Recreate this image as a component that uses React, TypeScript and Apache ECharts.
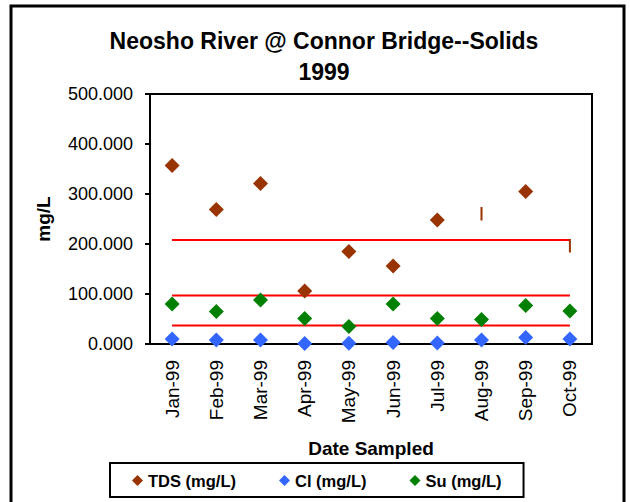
import React, { useEffect, useRef } from "react";
import * as echarts from "echarts";

const categories = ["Jan-99", "Feb-99", "Mar-99", "Apr-99", "May-99", "Jun-99", "Jul-99", "Aug-99", "Sep-99", "Oct-99"];
const tds = [357, 269, 321, 106, 185, 156, 248, null, 305, null];
const cl = [10, 8, 8, 1, 1.5, 3, 2, 8, 13, 10];
const su = [80, 65, 88, 51, 35, 80, 51, 49, 77, 66];
// vertical brown segments (category index, high, low)
const tdsSegments = [
  [7, 274, 247],
  [9, 210, 183],
];
const limitHigh = [208, 208, 208, 208, 208, 208, 208, 208, 208, 208];
const limitMid = [97, 97, 97, 97, 97, 97, 97, 97, 97, 97];
const limitLow = [37, 37, 37, 37, 37, 37, 37, 37, 37, 37];
const yTicks = [0, 100, 200, 300, 400, 500];

const FONT = "'Liberation Sans', Arial, sans-serif";

export default function App() {
  const ref = useRef<HTMLDivElement>(null);
  useEffect(() => {
    const chart = echarts.init(ref.current!, null, { renderer: "svg" });
    const redLine = (data: number[]) => ({
      type: "line",
      data,
      symbol: "none",
      lineStyle: { color: "#FF0000", width: 2 },
      silent: true,
      z: 1,
    });
    chart.setOption({
      animation: false,
      backgroundColor: "#ffffff",
      textStyle: { fontFamily: FONT },
      title: {
        text: "Neosho River @ Connor Bridge--Solids\n1999",
        left: 319,
        textAlign: "center",
        top: 20,
        textStyle: { fontFamily: FONT, fontSize: 23, fontWeight: "bold", color: "#000", lineHeight: 31 },
      },
      graphic: [
        {
          type: "rect",
          shape: { x: 11, y: 6, width: 613, height: 520 },
          style: { fill: "none", stroke: "#000", lineWidth: 3 },
          silent: true,
        },
      ],
      legend: {
        left: 110,
        top: 463,
        padding: [9, 22, 8, 22],
        itemGap: 43,
        itemWidth: 11,
        itemHeight: 11,
        borderColor: "#000",
        borderWidth: 2,
        data: [
          { name: "TDS (mg/L)", icon: "diamond" },
          { name: "Cl (mg/L)", icon: "diamond" },
          { name: "Su (mg/L)", icon: "diamond" },
        ],
        textStyle: { fontFamily: FONT, fontSize: 16.5, fontWeight: "bold", color: "#000" },
      },
      grid: {
        left: 150,
        top: 94,
        right: 38,
        bottom: 158,
        show: true,
        borderColor: "#000",
        borderWidth: 2,
        containLabel: false,
      },
      xAxis: {
        type: "category",
        data: categories,
        boundaryGap: true,
        name: "Date Sampled",
        nameLocation: "middle",
        nameGap: 95,
        nameTextStyle: { fontFamily: FONT, fontSize: 19, fontWeight: "bold", color: "#000", verticalAlign: "top" },
        axisLine: { lineStyle: { color: "#000", width: 2 } },
        axisTick: { show: false },
        axisLabel: { rotate: 90, fontSize: 19, color: "#000", fontFamily: FONT, margin: 16 },
        splitLine: { show: false },
      },
      yAxis: {
        type: "value",
        min: yTicks[0],
        max: yTicks[yTicks.length - 1],
        interval: 100,
        name: "mg/L",
        nameLocation: "middle",
        nameGap: 97,
        nameTextStyle: { fontFamily: FONT, fontSize: 19, fontWeight: "bold", color: "#000" },
        axisLine: { show: true, lineStyle: { color: "#000", width: 2 } },
        axisTick: { show: true, inside: false, length: 5, lineStyle: { color: "#000", width: 2 } },
        axisLabel: {
          fontSize: 18,
          color: "#000",
          fontFamily: FONT,
          margin: 17,
          formatter: (v: number) => v.toFixed(3),
        },
        splitLine: { show: false },
      },
      series: [
        redLine(limitHigh),
        redLine(limitMid),
        redLine(limitLow),
        {
          type: "custom",
          silent: true,
          z: 2,
          data: tdsSegments,
          renderItem: (params: any, api: any) => {
            const p1 = api.coord([api.value(0), api.value(1)]);
            const p2 = api.coord([api.value(0), api.value(2)]);
            return {
              type: "line",
              shape: { x1: p1[0], y1: p1[1], x2: p2[0], y2: p2[1] },
              style: { stroke: "#993300", lineWidth: 2 },
            };
          },
        },
        {
          name: "TDS (mg/L)",
          type: "scatter",
          data: tds,
          symbol: "diamond",
          symbolSize: 15,
          itemStyle: { color: "#993300", opacity: 1 },
          clip: false,
          z: 3,
        },
        {
          name: "Cl (mg/L)",
          type: "scatter",
          data: cl,
          symbol: "diamond",
          symbolSize: 15,
          itemStyle: { color: "#3366FF", opacity: 1 },
          clip: false,
          z: 3,
        },
        {
          name: "Su (mg/L)",
          type: "scatter",
          data: su,
          symbol: "diamond",
          symbolSize: 15,
          itemStyle: { color: "#008000", opacity: 1 },
          clip: false,
          z: 3,
        },
      ],
    });
    return () => chart.dispose();
  }, []);
  return (
    <div
      ref={ref}
      style={{ position: "fixed", left: 0, top: 0, width: 630, height: 502 }}
    />
  );
}
